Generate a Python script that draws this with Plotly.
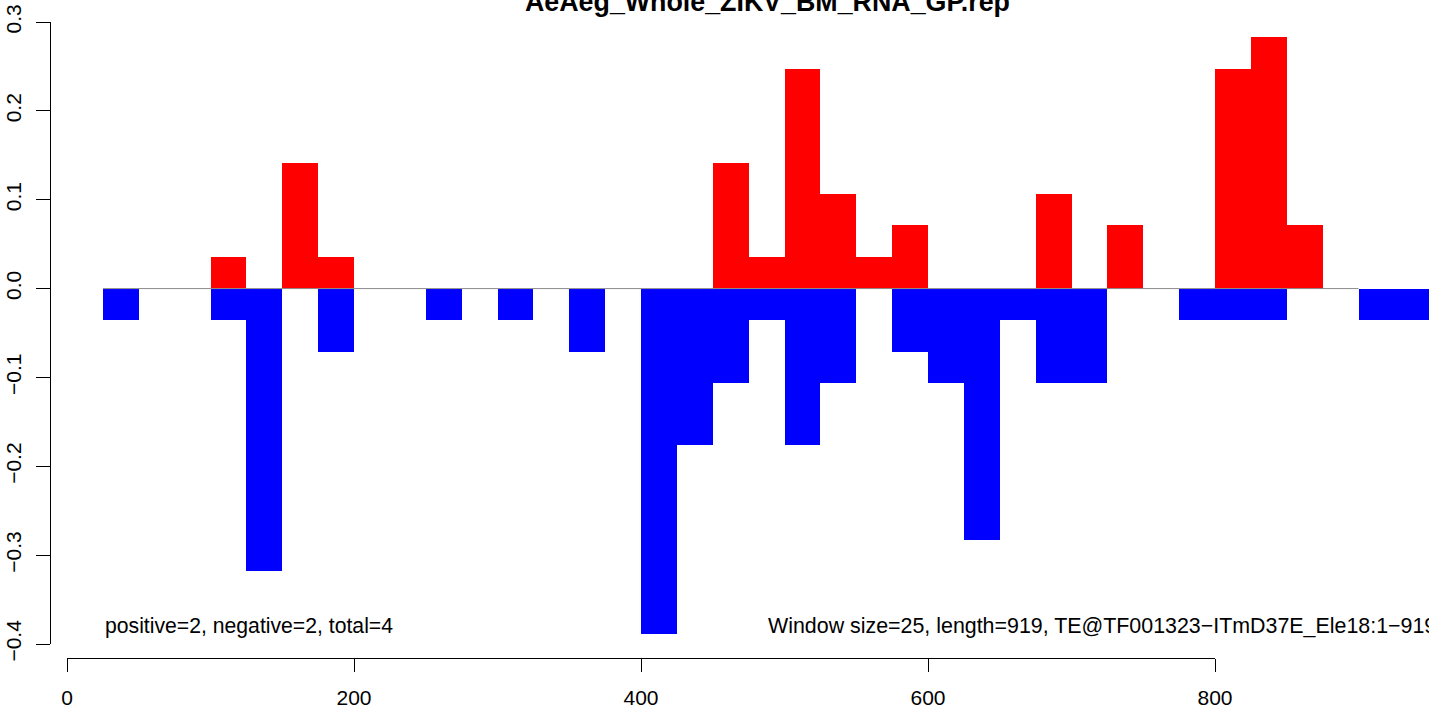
import plotly.graph_objects as go

# ---- data ----
title_text = "AeAeg_Whole_ZIKV_BM_RNA_GP.rep"
window_size = 25
window_start = [0, 25, 50, 75, 100, 125, 150, 175, 200, 225, 250, 275, 300, 325,
                350, 375, 400, 425, 450, 475, 500, 525, 550, 575, 600, 625, 650,
                675, 700, 725, 750, 775, 800, 825, 850, 875, 900, 925]
positive = [0, 0, 0, 0, 0.035, 0, 0.141, 0.035, 0, 0, 0, 0, 0, 0,
            0, 0, 0, 0, 0.141, 0.035, 0.247, 0.106, 0.035, 0.071, 0, 0, 0,
            0.106, 0, 0.071, 0, 0, 0.247, 0.283, 0.071, 0, 0, 0]
negative = [0, -0.035, 0, 0, -0.035, -0.318, 0, -0.071, 0, 0, -0.035, 0, -0.035, 0,
            -0.071, 0, -0.389, -0.176, -0.106, -0.035, -0.176, -0.106, 0, -0.071, -0.106, -0.283, -0.035,
            -0.106, -0.106, 0, 0, -0.035, -0.035, -0.035, 0, 0, -0.035, -0.035]
zero_line_x = [25, 900]
y_ticks = [-0.4, -0.3, -0.2, -0.1, 0.0, 0.1, 0.2, 0.3]
y_tick_labels = ["\u22120.4", "\u22120.3", "\u22120.2", "\u22120.1", "0.0", "0.1", "0.2", "0.3"]
x_ticks = [0, 200, 400, 600, 800]
x_tick_labels = ["0", "200", "400", "600", "800"]
left_note = "positive=2, negative=2, total=4"
right_note = "Window size=25, length=919, TE@TF001323\u2212ITmD37E_Ele18:1\u2212919"

FONT = "Liberation Sans, Arial, Helvetica, sans-serif"
W, H = 1429, 706
ML, MB, MT = 51, 48, 0
PH = H - MT - MB  # 658
PW = W - ML       # 1378

fig = go.Figure()
fig.add_trace(go.Bar(x=window_start, y=negative, width=window_size, offset=0,
                     marker=dict(color="#0000ff", line=dict(width=0)),
                     hoverinfo="skip", showlegend=False))
fig.add_trace(go.Scatter(x=zero_line_x, y=[0, 0], mode="lines",
                         line=dict(color="#8c8c8c", width=1),
                         hoverinfo="skip", showlegend=False))
fig.add_trace(go.Bar(x=window_start, y=positive, width=window_size, offset=0,
                     marker=dict(color="#ff0000", line=dict(width=0)),
                     hoverinfo="skip", showlegend=False))
# carrier for the bottom axis
fig.add_trace(go.Scatter(x=x_ticks, y=[0] * len(x_ticks), xaxis="x2", yaxis="y",
                         mode="markers", marker=dict(opacity=0),
                         hoverinfo="skip", showlegend=False))

px_per_unit = 1148 / 800.0
x0_px = 67 - ML
xr = [(0 - x0_px) / px_per_unit, (PW - x0_px) / px_per_unit]

fig.update_layout(
    template="none",
    width=W, height=H,
    margin=dict(l=ML, r=0, t=MT, b=MB, pad=0, autoexpand=False),
    paper_bgcolor="white", plot_bgcolor="rgba(0,0,0,0)",
    barmode="overlay", bargap=0,
    font=dict(family=FONT, size=21, color="black"),
    xaxis=dict(domain=[0, 1], range=xr, visible=False, showgrid=False, zeroline=False,
               automargin=False),
    xaxis2=dict(domain=[(67 - ML) / PW, (1215 - ML) / PW], range=[0, 800],
                anchor="free", position=0, showline=True, linecolor="black", linewidth=1,
                ticks="outside", ticklen=13, tickwidth=1, tickcolor="black",
                tickvals=x_ticks, ticktext=x_tick_labels, showgrid=False, zeroline=False,
                automargin=False, ticklabelstandoff=8,
                tickfont=dict(family=FONT, size=21, color="black")),
    yaxis=dict(domain=[(658 - 644) / PH, (658 - 22) / PH], range=[-0.4, 0.3],
               showline=True, linecolor="black", linewidth=1,
               ticks="outside", ticklen=14, tickwidth=1, tickcolor="black",
               tickvals=y_ticks, ticktext=y_tick_labels, tickangle=-90,
               showgrid=False, zeroline=False, automargin=False, ticklabelstandoff=7,
               tickfont=dict(family=FONT, size=21, color="black")),
)

fig.add_annotation(x=window_start[1], y=-0.38, xref="x", yref="y", text=left_note,
                   showarrow=False, xanchor="left", yanchor="middle",
                   font=dict(family=FONT, size=21.2, color="black"))
fig.add_annotation(x=487, y=-0.38, xref="x", yref="y", text=right_note,
                   showarrow=False, xanchor="left", yanchor="middle",
                   font=dict(family=FONT, size=21.4, color="black"))
fig.add_annotation(x=(767 - ML) / PW, y=(658 - 2) / PH, xref="paper", yref="paper",
                   text="<b>" + title_text + "</b>", showarrow=False,
                   xanchor="center", yanchor="middle",
                   font=dict(family=FONT, size=26.8, color="black"))

fig.write_html("out.html",
               config={"displayModeBar": False, "staticPlot": True},
               post_script="document.body.style.margin='0px';document.body.style.overflow='hidden';")
